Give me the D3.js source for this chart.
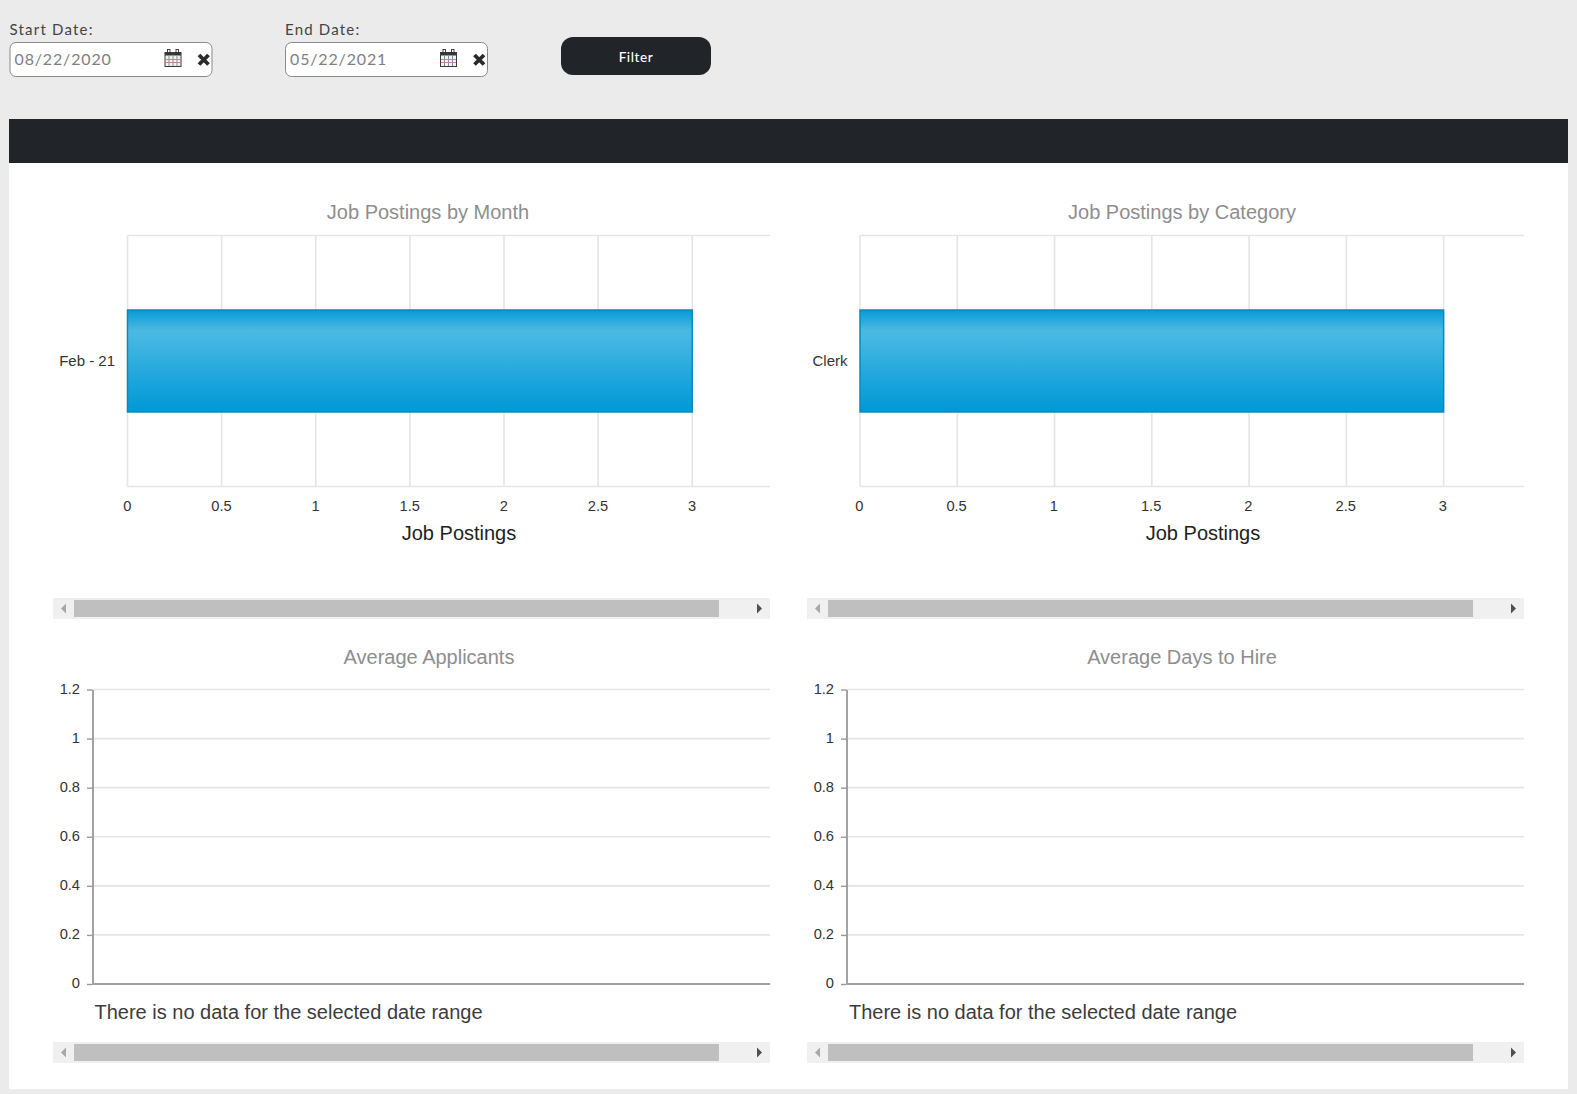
<!DOCTYPE html>
<html>
<head>
<meta charset="utf-8">
<title>Job Postings</title>
<script src="https://cdnjs.cloudflare.com/ajax/libs/d3/7.8.5/d3.min.js"></script>
<style>
  html, body { margin: 0; padding: 0; background: #ebebeb; overflow: hidden; }
  svg { display: block; }
  text { font-family: "Liberation Sans", Arial, sans-serif; }
  text.ui { font-family: Lato, "Open Sans", sans-serif; }
</style>
</head>
<body>
<svg id="page" width="1577" height="1094"></svg>
<script>
// Dashboard data
const monthCategories = ["Feb - 21"];
const monthPostings = [3];
const jobCategories = ["Clerk"];
const categoryPostings = [3];
const postingTicks = [0, 0.5, 1, 1.5, 2, 2.5, 3];
const averageTicks = [0, 0.2, 0.4, 0.6, 0.8, 1, 1.2];
const startDate = "08/22/2020";
const endDate = "05/22/2021";
const noDataMessage = "There is no data for the selected date range";

const tickFontSize = 14.67;
const gridColour = "#e5e5e5";
const axisColour = "#989898";

const svg = d3.select("#page");
const defs = svg.append("defs");

// Glossy vertical fill for the bars
const gloss = defs.append("linearGradient")
  .attr("id", "barGloss").attr("x1", 0).attr("y1", 0).attr("x2", 0).attr("y2", 1);
[[0, "#079ad5"], [0.2, "#4ab9e4"], [0.28, "#46b7e3"], [0.7, "#1ba5dc"], [1, "#0098d6"]]
  .forEach(([o, c]) => gloss.append("stop").attr("offset", o).attr("stop-color", c));

// Page panels
svg.append("rect").attr("x", 9).attr("y", 163).attr("width", 1559).attr("height", 926).attr("fill", "#fff");
svg.append("rect").attr("x", 9).attr("y", 119).attr("width", 1559).attr("height", 44).attr("fill", "#212529");

// Date filter controls
function dateField(x, label, value) {
  const g = svg.append("g").attr("transform", `translate(${x},0)`);
  g.append("text").attr("class", "ui").attr("x", 0).attr("y", 35)
    .attr("font-size", 15).attr("letter-spacing", 1.2).attr("fill", "#444").text(label);
  g.append("rect").attr("x", 0.5).attr("y", 42.5).attr("width", 202).attr("height", 34).attr("rx", 6)
    .attr("fill", "#fff").attr("stroke", "#8a8a8a");
  g.append("text").attr("class", "ui").attr("x", 5).attr("y", 65)
    .attr("font-size", 16).attr("letter-spacing", 0.85).attr("fill", "#808080").text(value);

  // Calendar icon
  const cal = g.append("g").attr("transform", "translate(155,49)");
  cal.append("rect").attr("x", 0.5).attr("y", 3.5).attr("width", 16).attr("height", 14)
    .attr("fill", "#f4f1ee").attr("stroke", "#3a3a3a");
  cal.append("rect").attr("x", 0.5).attr("y", 3.5).attr("width", 16).attr("height", 3).attr("fill", "#3a3a3a");
  [3, 11.5].forEach(cx => cal.append("rect").attr("x", cx).attr("y", 0.5).attr("width", 2.5).attr("height", 5)
    .attr("fill", "none").attr("stroke", "#333").attr("stroke-width", 0.9));
  [4.5, 8.5, 12.5].forEach(v => cal.append("line").attr("x1", v).attr("x2", v).attr("y1", 7).attr("y2", 17)
    .attr("stroke", "#7d8fa8"));
  [10.5, 13.5].forEach(v => cal.append("line").attr("x1", 1).attr("x2", 16).attr("y1", v).attr("y2", v)
    .attr("stroke", "#b98d8d"));

  // Clear icon
  g.append("path").attr("d", "M189.5 55 L199 64.5 M199 55 L189.5 64.5")
    .attr("stroke", "#2a2a2a").attr("stroke-width", 3.8).attr("fill", "none");
}
dateField(9.5, "Start Date:", startDate);
dateField(285, "End Date:", endDate);

svg.append("rect").attr("x", 561).attr("y", 37).attr("width", 150).attr("height", 38).attr("rx", 12).attr("fill", "#212529");
svg.append("text").attr("class", "ui").attr("x", 636).attr("y", 62).attr("text-anchor", "middle")
  .attr("font-size", 13.5).attr("font-weight", 500).attr("letter-spacing", 0.6).attr("fill", "#fff").text("Filter");

// Horizontal scrollbar under each chart
function scrollbar(left, right, top) {
  const g = svg.append("g");
  g.append("rect").attr("x", left).attr("y", top).attr("width", right - left).attr("height", 21).attr("fill", "#f0f0f0");
  g.append("rect").attr("x", left + 21).attr("y", top + 2).attr("width", 645).attr("height", 17).attr("fill", "#bfbfbf");
  const mid = top + 10.5;
  g.append("path").attr("d", `M${left + 8} ${mid} L${left + 13} ${mid - 5} L${left + 13} ${mid + 5} Z`).attr("fill", "#a8a8a8");
  g.append("path").attr("d", `M${right - 13} ${mid - 5} L${right - 8} ${mid} L${right - 13} ${mid + 5} Z`).attr("fill", "#505050");
}

function chartTitle(x, y, label) {
  svg.append("text").attr("x", x).attr("y", y).attr("text-anchor", "middle")
    .attr("font-size", 20).attr("fill", "#8e8e8e").text(label);
}

// Horizontal bar chart of posting counts
function barChart({ left, right, title, titleX, axisLabelX, labelShift, categories, values }) {
  const top = 235.5, bottom = 486.5;
  const x = d3.scaleLinear().domain([0, 3.413]).range([left, right]);
  const y = d3.scaleBand().domain(categories).range([top, bottom]).padding(0.422);

  chartTitle(titleX, 219, title);

  const grid = svg.append("g").attr("stroke", gridColour).attr("stroke-width", 1.6);
  grid.selectAll("line").data(postingTicks).join("line")
    .attr("x1", d => x(d)).attr("x2", d => x(d)).attr("y1", top).attr("y2", bottom);
  grid.append("line").attr("x1", left).attr("x2", right).attr("y1", top).attr("y2", top);
  grid.append("line").attr("x1", left).attr("x2", right).attr("y1", bottom).attr("y2", bottom);

  svg.append("g").selectAll("rect").data(categories).join("rect")
    .attr("x", x(0)).attr("y", d => y(d))
    .attr("width", (d, i) => x(values[i]) - x(0)).attr("height", y.bandwidth())
    .attr("fill", "url(#barGloss)").attr("stroke", "#0a86ba").attr("stroke-width", 1.4);

  const xAxis = svg.append("g").attr("transform", `translate(${labelShift},${bottom})`)
    .call(d3.axisBottom(x).tickValues(postingTicks).tickFormat(d3.format("~g")).tickSize(0).tickPadding(14));
  xAxis.select(".domain").remove();
  xAxis.selectAll("text").attr("font-size", tickFontSize).attr("fill", "#333").attr("font-family", null);

  const yAxis = svg.append("g").attr("transform", `translate(${left},0)`)
    .call(d3.axisLeft(y).tickSize(0).tickPadding(12.5));
  yAxis.select(".domain").remove();
  yAxis.selectAll("text").attr("font-size", 15).attr("fill", "#333").attr("font-family", null);

  svg.append("text").attr("x", axisLabelX).attr("y", 540).attr("text-anchor", "middle")
    .attr("font-size", 20).attr("fill", "#222").text("Job Postings");
}

barChart({ left: 127.5, right: 770, title: "Job Postings by Month", titleX: 428, axisLabelX: 459, labelShift: -0.7,
  categories: monthCategories, values: monthPostings });
barChart({ left: 860, right: 1524, title: "Job Postings by Category", titleX: 1182, axisLabelX: 1203, labelShift: -1.2,
  categories: jobCategories, values: categoryPostings });
scrollbar(53, 770, 598);
scrollbar(807, 1524, 598);

// Empty average charts: axes and gridlines only
function emptyChart({ left, right, title, titleX, messageX }) {
  const y = d3.scaleLinear().domain([0, 1.2]).range([984, 689.5]);

  chartTitle(titleX, 664, title);

  svg.append("g").selectAll("line").data(averageTicks.filter(d => d > 0)).join("line")
    .attr("x1", left).attr("x2", right).attr("y1", d => y(d)).attr("y2", d => y(d))
    .attr("stroke", gridColour).attr("stroke-width", 1.6);

  const yAxis = svg.append("g").attr("transform", `translate(${left},0)`)
    .call(d3.axisLeft(y).tickValues(averageTicks).tickFormat(d3.format("~g")).tickSize(5.5).tickPadding(7).tickSizeOuter(0));
  yAxis.select(".domain").attr("stroke", axisColour).attr("stroke-width", 1.8);
  yAxis.selectAll(".tick line").attr("stroke", axisColour).attr("stroke-width", 1.4);
  yAxis.selectAll("text").attr("y", -0.8).attr("font-size", tickFontSize).attr("fill", "#333").attr("font-family", null);

  svg.append("line").attr("x1", left).attr("x2", right).attr("y1", y(0)).attr("y2", y(0))
    .attr("stroke", "#a0a0a0").attr("stroke-width", 1.8);

  svg.append("text").attr("x", messageX).attr("y", 1019)
    .attr("font-size", 20).attr("fill", "#3c3c3c").text(noDataMessage);
}

emptyChart({ left: 92.5, right: 770, title: "Average Applicants", titleX: 429, messageX: 94.5 });
emptyChart({ left: 846.5, right: 1524, title: "Average Days to Hire", titleX: 1182, messageX: 849 });
scrollbar(53, 770, 1042);
scrollbar(807, 1524, 1042);
</script>
</body>
</html>
